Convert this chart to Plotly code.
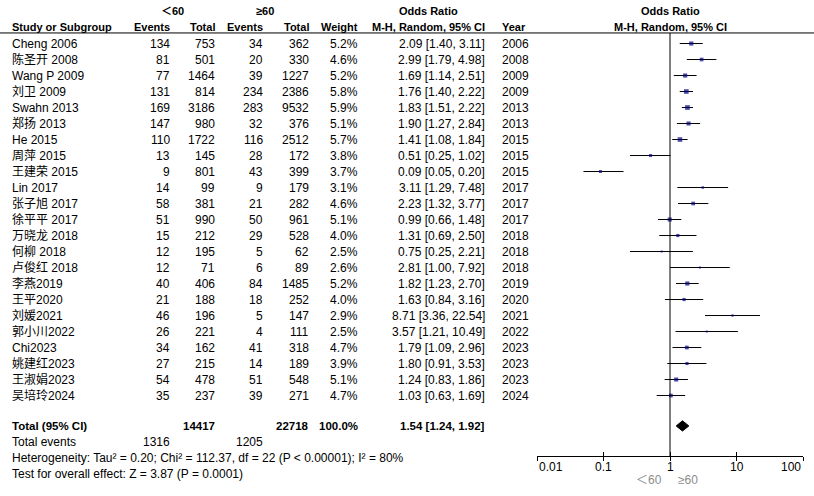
import math
import plotly.graph_objects as go

# forest plot data: <60 vs >=60
studies = ["Cheng 2006", "陈圣开 2008", "Wang P 2009", "刘卫 2009", "Swahn 2013", "郑扬 2013",
           "He 2015", "周萍 2015", "王建荣 2015", "Lin 2017", "张子旭 2017", "徐平平 2017",
           "万晓龙 2018", "何柳 2018", "卢俊红 2018", "李燕2019", "王平2020", "刘媛2021",
           "郭小川2022", "Chi2023", "姚建红2023", "王淑娟2023", "吴培玲2024"]
events_lt60 = [134, 81, 77, 131, 169, 147, 110, 13, 9, 14, 58, 51, 15, 12, 12, 40, 21, 46, 26, 34, 27, 54, 35]
total_lt60 = [753, 501, 1464, 814, 3186, 980, 1722, 145, 801, 99, 381, 990, 212, 195, 71, 406, 188, 196,
              221, 162, 215, 478, 237]
events_ge60 = [34, 20, 39, 234, 283, 32, 116, 28, 43, 9, 21, 50, 29, 5, 6, 84, 18, 5, 4, 41, 14, 51, 39]
total_ge60 = [362, 330, 1227, 2386, 9532, 376, 2512, 172, 399, 179, 282, 961, 528, 62, 89, 1485, 252, 147,
              111, 318, 189, 548, 271]
weights = [5.2, 4.6, 5.2, 5.8, 5.9, 5.1, 5.7, 3.8, 3.7, 3.1, 4.6, 5.1, 4.0, 2.5, 2.6, 5.2, 4.0, 2.9, 2.5,
           4.7, 3.9, 5.1, 4.7]
odds = [2.09, 2.99, 1.69, 1.76, 1.83, 1.90, 1.41, 0.51, 0.09, 3.11, 2.23, 0.99, 1.31, 0.75, 2.81, 1.82,
        1.63, 8.71, 3.57, 1.79, 1.80, 1.24, 1.03]
ci_low = [1.40, 1.79, 1.14, 1.40, 1.51, 1.27, 1.08, 0.25, 0.05, 1.29, 1.32, 0.66, 0.69, 0.25, 1.00, 1.23,
          0.84, 3.36, 1.21, 1.09, 0.91, 0.83, 0.63]
ci_high = [3.11, 4.98, 2.51, 2.22, 2.22, 2.84, 1.84, 1.02, 0.20, 7.48, 3.77, 1.48, 2.50, 2.21, 7.92, 2.70,
           3.16, 22.54, 10.49, 2.96, 3.53, 1.86, 1.69]
years = [2006, 2008, 2009, 2009, 2013, 2013, 2015, 2015, 2015, 2017, 2017, 2017, 2018, 2018, 2018, 2019,
         2020, 2021, 2022, 2023, 2023, 2023, 2024]

total_or = [1.24, 1.54, 1.92]
total_n = [14417, 22718]
total_weight = 100.0
total_events = [1316, 1205]
tick_vals = [0.01, 0.1, 1, 10, 100]
tick_text = ["0.01", "0.1", "1", "10", "100"]

W, H = 814, 496
FONT = "Arial, Liberation Sans, Noto Sans CJK SC, sans-serif"
rows = list(range(len(studies)))
total_row = 23.9

fig = go.Figure()

# CI whiskers
wx, wy = [], []
for r, lo, hi in zip(rows, ci_low, ci_high):
    wx += [lo, hi, None]
    wy += [r, r, None]
fig.add_trace(go.Scatter(x=wx, y=wy, mode="lines", line=dict(color="black", width=1),
                         hoverinfo="skip", showlegend=False))

# point estimates
fig.add_trace(go.Scatter(x=odds, y=rows, mode="markers",
                         marker=dict(symbol="square", color="#000080",
                                     size=[w * 0.8 for w in weights], line=dict(width=0)),
                         showlegend=False))

# pooled diamond
lo, mid, hi = total_or
fig.add_trace(go.Scatter(x=[lo, mid, hi, mid, lo], y=[total_row, total_row - 0.32, total_row,
                                                    total_row + 0.32, total_row],
                         mode="lines", fill="toself", fillcolor="black",
                         line=dict(color="black", width=1), showlegend=False))

# line of no effect
fig.add_trace(go.Scatter(x=[1, 1], y=[-0.66, 25.78], mode="lines",
                         line=dict(color="black", width=1), showlegend=False))
# dummy for the overlay axis
fig.add_trace(go.Scatter(x=[1], y=[0], xaxis="x2", mode="markers", marker=dict(opacity=0),
                         showlegend=False, hoverinfo="skip"))

ann = []


def txt(x, y, s, anchor="left", bold=False, size=12, color="black", xref="paper"):
    ann.append(dict(x=x / W if xref == "paper" else x, y=y, xref=xref, yref="y",
                    text="<b>%s</b>" % s if bold else s, showarrow=False,
                    xanchor=anchor, yanchor="middle",
                    font=dict(family=FONT, size=size, color=color)))


# headers
txt(172, -2.03, "＜60", "center", True, 11)
txt(265, -2.03, "≥60", "center", True, 11)
txt(428, -2.03, "Odds Ratio", "center", True, 11)
txt(670, -2.03, "Odds Ratio", "center", True, 11)
txt(10, -1.03, "Study or Subgroup", "left", True, 11)
for xx, s in [(172, "Events"), (217, "Total"), (265, "Events"), (311, "Total"), (360, "Weight"),
              (487, "M-H, Random, 95% CI")]:
    txt(xx, -1.03, s, "right", True, 11)
txt(500, -1.03, "Year", "left", True, 11)
txt(670, -1.03, "M-H, Random, 95% CI", "center", True, 11)

for r in rows:
    txt(10, r, studies[r])
    txt(172, r, str(events_lt60[r]), "right")
    txt(217, r, str(total_lt60[r]), "right")
    txt(265, r, str(events_ge60[r]), "right")
    txt(311, r, str(total_ge60[r]), "right")
    txt(360, r, "%.1f%%" % weights[r], "right")
    txt(487, r, "%.2f [%.2f, %.2f]" % (odds[r], ci_low[r], ci_high[r]), "right")
    txt(500, r, str(years[r]))

txt(10, total_row, "Total (95% CI)", "left", True, 11.5)
txt(217, total_row, str(total_n[0]), "right", True, 11.5)
txt(311, total_row, str(total_n[1]), "right", True, 11.5)
txt(360, total_row, "%.1f%%" % total_weight, "right", True, 11.5)
txt(487, total_row, "%.2f [%.2f, %.2f]" % (mid, lo, hi), "right", True, 11.5)
txt(10, total_row + 1, "Total events")
txt(172, total_row + 1, str(total_events[0]), "right")
txt(265, total_row + 1, str(total_events[1]), "right")
txt(10, total_row + 2, "Heterogeneity: Tau² = 0.20; Chi² = 112.37, df = 22 (P < 0.00001); I² = 80%")
txt(10, total_row + 3, "Test for overall effect: Z = 3.87 (P = 0.0001)")

# tick labels, end ones pulled inward like RevMan
for i, (v, s) in enumerate(zip(tick_vals, tick_text)):
    a = "left" if i == 0 else ("right" if i == len(tick_vals) - 1 else "center")
    txt(math.log10(v), 26.45, s, a, xref="x")
txt(664, 27.3, "＜60", "right", color="#8c8c8c")
txt(676, 27.3, "≥60", "left", color="#8c8c8c")

x_dom = [537 / W, 803 / W]
axis_pos = 1 - 456 / H
common = dict(type="log", range=[-2, 2], domain=x_dom, anchor="free", position=axis_pos,
              showline=True, linecolor="black", linewidth=1, tickvals=tick_vals,
              showticklabels=False, showgrid=False, zeroline=False, ticklen=4,
              tickcolor="black", tickwidth=1)

fig.update_layout(
    width=W, height=H,
    margin=dict(l=0, r=0, t=0, b=0),
    paper_bgcolor="white", plot_bgcolor="white",
    showlegend=False,
    xaxis=dict(ticks="inside", **common),
    xaxis2=dict(ticks="outside", overlaying="x", **common),
    yaxis=dict(range=[28.28, -2.72], domain=[0, 1], visible=False, fixedrange=True),
    annotations=ann,
    shapes=[dict(type="line", xref="paper", yref="y", x0=0, x1=1, y0=-0.66, y1=-0.66,
                 line=dict(color="black", width=1))],
)

# drop the default 8px body margin so the chart sits at the page corner
fig.write_html("out.html", config={"displayModeBar": False},
               post_script="document.body.style.margin='0';")
